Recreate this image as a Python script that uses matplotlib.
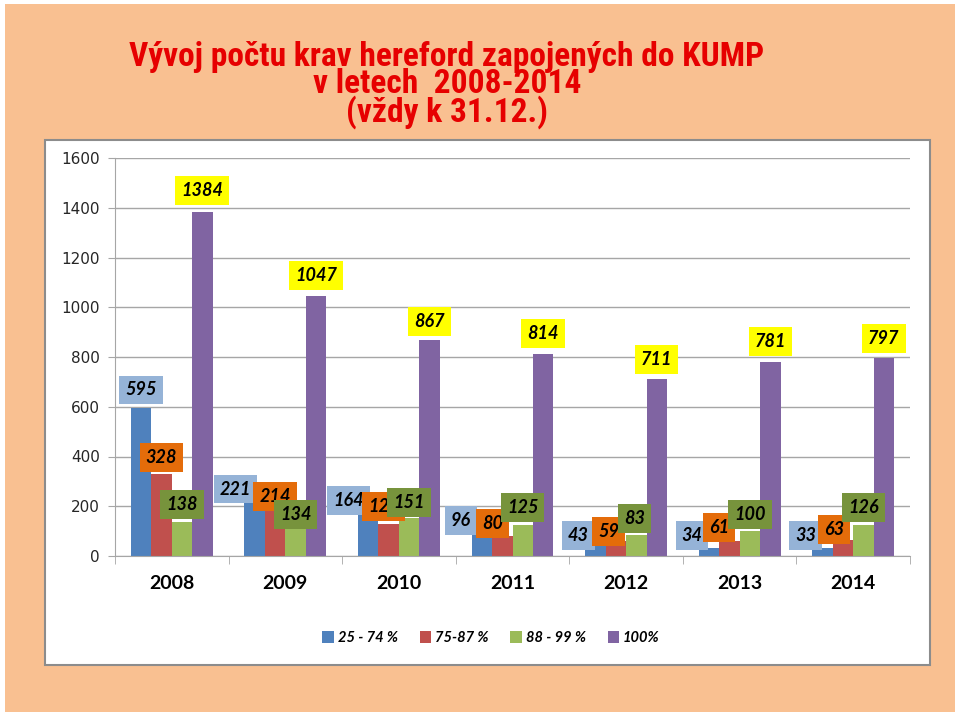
import numpy as np
import matplotlib.pyplot as plt
from matplotlib.patches import Rectangle

years = ['2008', '2009', '2010', '2011', '2012', '2013', '2014']
series_names = ['25 - 74 %', '75-87 %', '88 - 99 %', '100%']
v_25_74 = [595, 221, 164, 96, 43, 34, 33]
v_75_87 = [328, 214, 127, 80, 59, 61, 63]
v_88_99 = [138, 134, 151, 125, 83, 100, 126]
v_100 = [1384, 1047, 867, 814, 711, 781, 797]

bar_colors = ['#4F81BD', '#C0504D', '#9BBB59', '#8064A2']
label_bg = ['#95B3D7', '#E46C0A', '#77933C', '#FFFF00']

# label offsets in pixels (dx, dy) relative to the bar top, as placed in the original
lab_dx = [[0, -19, -20, -21, -17, -17, -17],
          [0, 0, -5, -10, -7, -10, -9],
          [0, 0, 0, 0, -2, 0, 0],
          [0, 0, 0, 0, 0, 0, 0]]
lab_dy = [[18, 12, 15, 12, 10, 12, 12],
          [17, 6, 18, 13, 10, 13, 11],
          [17, 8, 16, 17, 17, 17, 17],
          [21, 20, 19, 20, 20, 20, 19]]

fig = plt.figure(figsize=(9.6, 7.16), dpi=100)
fig.patch.set_facecolor('white')
fig.patches.append(Rectangle((5 / 960, 4 / 716), 950 / 960, 708 / 716,
                             transform=fig.transFigure, facecolor='#F9C091',
                             edgecolor='none', zorder=-3))
fig.patches.append(Rectangle((45 / 960, 51 / 716), 885 / 960, 525 / 716,
                             transform=fig.transFigure, facecolor='white',
                             edgecolor='#8C8C8C', linewidth=1.5, zorder=-2))

title_font = ['Liberation Sans Narrow', 'Roboto Condensed', 'Liberation Sans']
title = 'Vývoj počtu krav hereford zapojených do KUMP\nv letech  2008-2014\n(vždy k 31.12.)'
fig.text(447 / 960, 1 - 122 / 716, title, ha='center', va='baseline',
         multialignment='center', fontsize=24, fontweight='bold',
         color='#E60000', family=title_font, linespacing=0.82)

ax = fig.add_axes([115 / 960, 1 - 556 / 716, 795 / 960, 398 / 716])
ax.set_facecolor('none')

x = np.arange(len(years))
w = 0.18
all_vals = [v_25_74, v_75_87, v_88_99, v_100]
for i, vals in enumerate(all_vals):
    xs = x + (i - 1.5) * w
    ax.bar(xs, vals, width=w, color=bar_colors[i], label=series_names[i], zorder=2)

for i, vals in enumerate(all_vals):
    xs = x + (i - 1.5) * w
    for j, v in enumerate(vals):
        ax.annotate(str(v), (xs[j], v), xytext=(lab_dx[i][j], lab_dy[i][j]),
                    textcoords='offset pixels', ha='center', va='center',
                    fontsize=13, fontweight='bold', fontstyle='italic',
                    family='Lato', color='black', zorder=5,
                    bbox=dict(boxstyle='square,pad=0.33', facecolor=label_bg[i],
                              edgecolor='none'))

ax.set_xlim(-0.5, len(years) - 0.5)
ax.set_ylim(0, 1600)
ax.set_yticks(np.arange(0, 1601, 200))
ax.yaxis.grid(True, color='#A6A6A6', linewidth=1, zorder=0)
ax.set_axisbelow(True)
ax.tick_params(axis='y', length=5, color='#A6A6A6', labelsize=11,
               labelcolor='#262626', pad=6)
ax.set_xticks(x)
ax.set_xticklabels(years, fontsize=14, fontweight='bold', family='Lato')
ax.set_xticks(np.arange(-0.5, len(years)), minor=True)
ax.tick_params(axis='x', which='major', length=0, pad=14)
ax.tick_params(axis='x', which='minor', length=6, color='#A6A6A6')
for s in ['top', 'right']:
    ax.spines[s].set_visible(False)
ax.spines['left'].set_color('#A6A6A6')
ax.spines['bottom'].set_color('#A6A6A6')

fig.legend(loc='center', bbox_to_anchor=(491 / 960, 1 - 638 / 716), ncol=4,
           frameon=False, handlelength=0.8, handleheight=0.8, handletextpad=0.25,
           columnspacing=1.5,
           prop={'family': 'Lato', 'weight': 'bold', 'style': 'italic', 'size': 10.5})

fig.savefig('out.png', dpi=100, facecolor=fig.get_facecolor())
